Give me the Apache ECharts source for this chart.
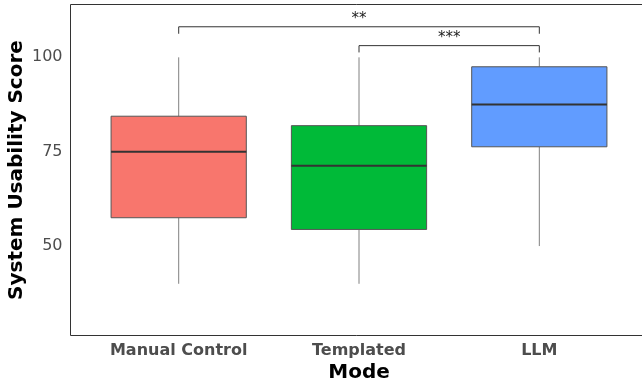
<!DOCTYPE html>
<html>
<head>
<meta charset="utf-8">
<script src="https://cdn.jsdelivr.net/npm/echarts@6/dist/echarts.min.js"></script>
<style>
  html, body { margin: 0; padding: 0; background: #ffffff; }
  #chart { width: 642px; height: 385px; }
</style>
</head>
<body>
<div id="chart"></div>
<script>
// Box summary per mode: whisker ends, quartiles and median
const categories = ['Manual Control', 'Templated', 'LLM'];
const whiskerLow = [40, 40, 50];
const quartile1 = [57.5, 54.4, 76.3];
const medians = [75, 71.3, 87.5];
const quartile3 = [84.4, 81.9, 97.5];
const whiskerHigh = [100, 100, 100];
const yTicks = [50, 75, 100];

// Significance brackets between modes (1-based positions)
const bracketFrom = [1, 2];
const bracketTo = [3, 3];
const bracketLevel = [108.1, 103.1];
const bracketTipEnd = [106.25, 101.3];
const bracketLabels = ['**', '***'];

const boxColors = ['#F8766D', '#00BA38', '#619CFF'];
const BOX_WIDTH = 0.75;
const FONT = 'DejaVu Sans';

const boxData = categories.map((c, i) => [
  i + 1, whiskerLow[i], quartile1[i], medians[i], quartile3[i], whiskerHigh[i]
]);
const bracketData = bracketLabels.map((l, i) => [
  bracketFrom[i], bracketTo[i], bracketLevel[i], bracketTipEnd[i]
]);

function renderBox(params, api) {
  const x = api.value(0);
  const lo = api.coord([x, api.value(1)]);
  const q1 = api.coord([x, api.value(2)]);
  const md = api.coord([x, api.value(3)]);
  const q3 = api.coord([x, api.value(4)]);
  const hi = api.coord([x, api.value(5)]);
  const w = api.size([BOX_WIDTH, 0])[0];
  const cx = lo[0];
  const whiskerStyle = { stroke: '#808080', lineWidth: 1 };
  return {
    type: 'group',
    children: [
      { type: 'line', shape: { x1: cx, y1: hi[1], x2: cx, y2: q3[1] }, style: whiskerStyle },
      { type: 'line', shape: { x1: cx, y1: q1[1], x2: cx, y2: lo[1] }, style: whiskerStyle },
      {
        type: 'rect',
        shape: { x: cx - w / 2, y: q3[1], width: w, height: q1[1] - q3[1] },
        style: { fill: boxColors[params.dataIndex], stroke: '#555555', lineWidth: 1 }
      },
      {
        type: 'line',
        shape: { x1: cx - w / 2, y1: md[1], x2: cx + w / 2, y2: md[1] },
        style: { stroke: '#333333', lineWidth: 2 }
      }
    ]
  };
}

function renderBracket(params, api) {
  const x1 = api.value(0), x2 = api.value(1);
  const level = api.value(2), tip = api.value(3);
  const a = api.coord([x1, tip]);
  const b = api.coord([x1, level]);
  const c = api.coord([x2, level]);
  const d = api.coord([x2, tip]);
  return {
    type: 'group',
    children: [
      {
        type: 'polyline',
        shape: { points: [a, b, c, d] },
        style: { stroke: '#333333', lineWidth: 1, fill: null }
      },
      {
        type: 'text',
        x: (b[0] + c[0]) / 2,
        y: b[1] - 8,
        style: {
          text: bracketLabels[params.dataIndex],
          fill: '#222222',
          font: '15px "' + FONT + '"',
          align: 'center',
          verticalAlign: 'middle'
        }
      }
    ]
  };
}

const chart = echarts.init(document.getElementById('chart'), null, { renderer: 'canvas' });
chart.setOption({
  animation: false,
  backgroundColor: '#ffffff',
  textStyle: { fontFamily: FONT },
  grid: {
    left: 70.5, top: 4.5, width: 577, height: 331,
    show: true, borderColor: '#333333', borderWidth: 1,
    containLabel: false,
    outerBoundsMode: 'none'
  },
  xAxis: {
    type: 'value',
    min: 0.4,
    max: 3.6,
    name: 'Mode',
    nameLocation: 'middle',
    nameGap: 27,
    nameMoveOverlap: false,
    nameTextStyle: { fontFamily: FONT, fontSize: 20, fontWeight: 'bold', color: '#000000' },
    axisLine: { show: false },
    axisTick: { show: false },
    splitLine: { show: false },
    axisLabel: {
      customValues: [1, 2, 3],
      formatter: v => categories[Math.round(v) - 1] || '',
      fontFamily: FONT,
      fontSize: 16,
      fontWeight: 'bold',
      color: '#4d4d4d',
      margin: 7
    }
  },
  yAxis: {
    type: 'value',
    min: 26.3,
    max: 114,
    name: 'System Usability Score',
    nameLocation: 'middle',
    nameGap: 44,
    nameMoveOverlap: false,
    nameTextStyle: { fontFamily: FONT, fontSize: 20, fontWeight: 'bold', color: '#000000' },
    axisLine: { show: false },
    axisTick: { show: false },
    splitLine: { show: false },
    axisLabel: {
      customValues: yTicks,
      fontFamily: FONT,
      fontSize: 16,
      color: '#4d4d4d',
      margin: 8
    }
  },
  series: [
    {
      type: 'custom',
      renderItem: renderBox,
      encode: { x: 0, y: [1, 2, 3, 4, 5] },
      data: boxData,
      silent: true
    },
    {
      type: 'custom',
      renderItem: renderBracket,
      encode: { x: [0, 1], y: [2, 3] },
      data: bracketData,
      silent: true,
      clip: false
    }
  ]
});
</script>
</body>
</html>
